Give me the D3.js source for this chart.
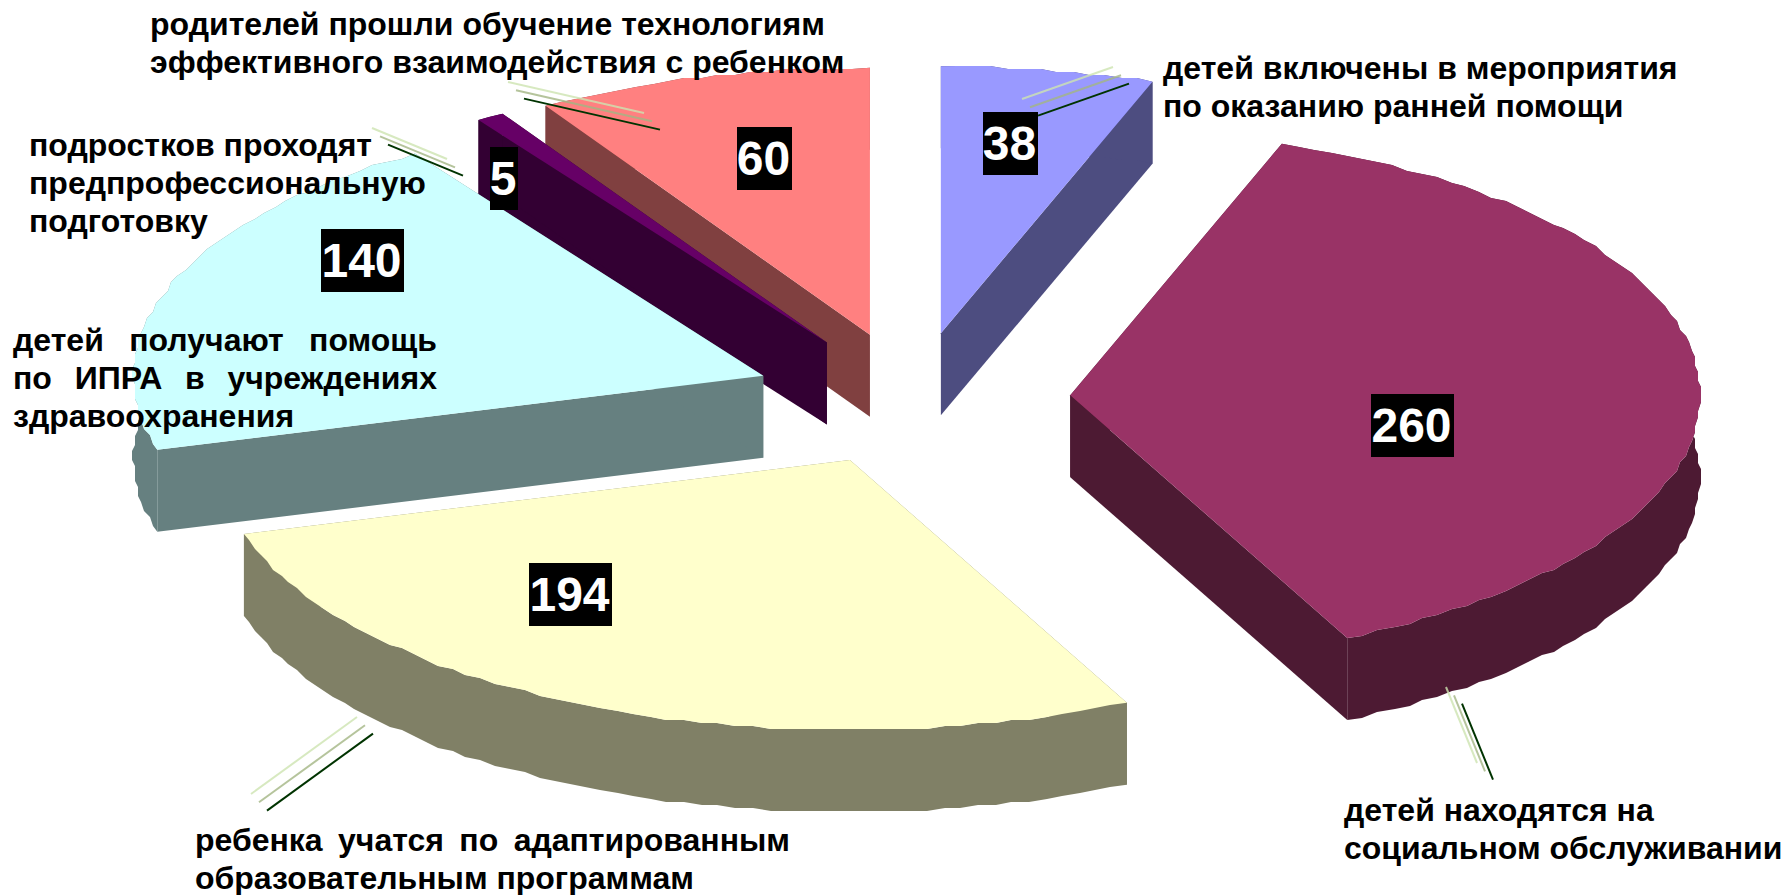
<!DOCTYPE html>
<html lang="ru">
<head>
<meta charset="utf-8">
<title>Круговая диаграмма</title>
<script src="https://cdn.jsdelivr.net/npm/d3@7/dist/d3.min.js"></script>
<style>
html,body{margin:0;padding:0;background:#fff;overflow:hidden}
svg{display:block}
text{font-family:"Liberation Sans",Arial,sans-serif;font-weight:700}
</style>
</head>
<body>
<svg id="chart" width="1785" height="895"></svg>
<script>
// ---- data, clockwise from 12 o'clock ----
const categories = ["blue","plum","cream","aqua","violet","salmon"];
const values = [38, 260, 194, 140, 5, 60];
const descriptions = [
  ["детей включены в мероприятия","по оказанию ранней помощи"],
  ["детей находятся на","социальном обслуживании"],
  ["ребенка  учатся  по  адаптированным","образовательным программам"],
  ["детей  получают  помощь","по  ИПРА  в  учреждениях","здравоохранения"],
  ["подростков проходят","предпрофессиональную","подготовку"],
  ["родителей прошли обучение технологиям","эффективного взаимодействия с ребенком"]
];

// ---- styles ----
const topColors  = ["#9999FF","#993366","#FFFFCC","#CCFFFF","#660066","#FF8080"];
const sideColors = ["#4D4D80","#4D1A33","#808066","#668080","#330033","#804040"];
const leaderColors = ["#CDE3B0","#A3B583","#003300"];
const leaderOpacity = [0.8,0.8,1];
const paintOrder = [5,4,3,0,1,2];

// ---- layout ----
const W = 1785, H = 895;
const cx = 914, cy = 399, rx = 630, ry = 267, depth = 82, explode = 0.25;
const frontGrow = 0.012;
const nudgeX = [0,-1,0,-3,-3,-2];
const rimStep = 0.028, rimGrid = 3;
const fontSize = 32, valueSize = 48, lineGap = 38.2;
const labelPos = [[1163,79],[1344,821],[195,851],[13,351],[29,156],[150,35]];
const justifyTo = [null,null,[790],[437,437],null,null];
const boxPos = [[983,112,55],[1371,394,83],[529,563,83],[321,229,83],[490,147,28],[737,127,55]];
const boxH = 63;
const leaders = [
  [[1113,67],[1022,99]],
  [[1446,687],[1477,763]],
  [[357,717],[251,794]],
  null,
  [[372,128],[447,159]],
  [[508,82],[644,113]]
];
const leaderOffset = [8,8.3];

const px = d3.scaleLinear().domain([-1,1]).range([cx-rx,cx+rx]);
const py = d3.scaleLinear().domain([-1,1]).range([cy+ry,cy-ry]);

const arcs = d3.pie().sort(null).value(d=>d)(values);
const svg = d3.select("#chart");
const line = d3.line().x(p=>p[0]).y(p=>p[1]);

function pt(a,r,mid,i){
  const c = r*Math.cos(a);
  return [px(explode*Math.sin(mid)+r*Math.sin(a))+nudgeX[i],
          py(explode*Math.cos(mid)+(c<0 ? c*(1+frontGrow) : c))];
}
function down(p){ return [p[0],p[1]+depth]; }
function snap(p,isEnd){ return isEnd ? p : [Math.round(p[0]/rimGrid)*rimGrid, Math.round(p[1]/rimGrid)*rimGrid]; }

const slices = paintOrder.map(i=>{
  const a = arcs[i], mid=(a.startAngle+a.endAngle)/2;
  const n = Math.max(2,Math.ceil((a.endAngle-a.startAngle)/rimStep));
  const rim = d3.range(n+1).map(k=>snap(pt(a.startAngle+(a.endAngle-a.startAngle)*k/n,1,mid,i),k===0||k===n));
  const apex = pt(0,0,mid,i);
  return {i,rim,apex};
});

const g = svg.append("g");
const sg = g.selectAll("g.slice").data(slices).join("g").attr("class","slice")
  .attr("data-category",d=>categories[d.i]);
// walls
sg.append("path").attr("fill",d=>sideColors[d.i])
  .attr("d",d=>line([d.apex,d.rim[0],down(d.rim[0]),down(d.apex)])+"Z");
sg.append("path").attr("fill",d=>sideColors[d.i])
  .attr("d",d=>line([d.apex,d.rim[d.rim.length-1],down(d.rim[d.rim.length-1]),down(d.apex)])+"Z");
sg.append("path").attr("fill",d=>sideColors[d.i])
  .attr("d",d=>line(d.rim.concat(d.rim.map(down).reverse()))+"Z");
// top
sg.append("path").attr("fill",d=>topColors[d.i])
  .attr("d",d=>line([d.apex].concat(d.rim))+"Z");

// leader lines
values.forEach((v,i)=>{
  const L = leaders[i] || null;
  if(!L) return;
  leaderColors.forEach((c,k)=>{
    svg.append("line")
      .attr("x1",L[0][0]+k*leaderOffset[0]).attr("y1",L[0][1]+k*leaderOffset[1])
      .attr("x2",L[1][0]+k*leaderOffset[0]).attr("y2",L[1][1]+k*leaderOffset[1])
      .attr("stroke",c).attr("stroke-opacity",leaderOpacity[k]).attr("stroke-width",2);
  });
});

// descriptions
descriptions.forEach((lines,i)=>{
  lines.forEach((t,j)=>{
    const el = svg.append("text")
      .attr("x",labelPos[i][0]).attr("y",labelPos[i][1]+j*lineGap)
      .attr("font-size",fontSize).attr("fill","#000")
      .text(t.replace(/\s+/g," "));
    const to = justifyTo[i] && justifyTo[i][j];
    if(to){
      const w = el.node().getComputedTextLength();
      const gaps = t.trim().split(/\s+/).length-1;
      el.attr("word-spacing",(to-labelPos[i][0]-w)/gaps);
    }
  });
});

// value boxes
values.forEach((v,i)=>{
  const b = boxPos[i];
  svg.append("rect").attr("x",b[0]).attr("y",b[1]).attr("width",b[2]).attr("height",boxH).attr("fill","#000");
  svg.append("text").attr("x",b[0]+b[2]/2-1).attr("y",b[1]+boxH/2+16)
    .attr("text-anchor","middle").attr("font-size",valueSize).attr("fill","#fff").text(v);
});
</script>
</body>
</html>
